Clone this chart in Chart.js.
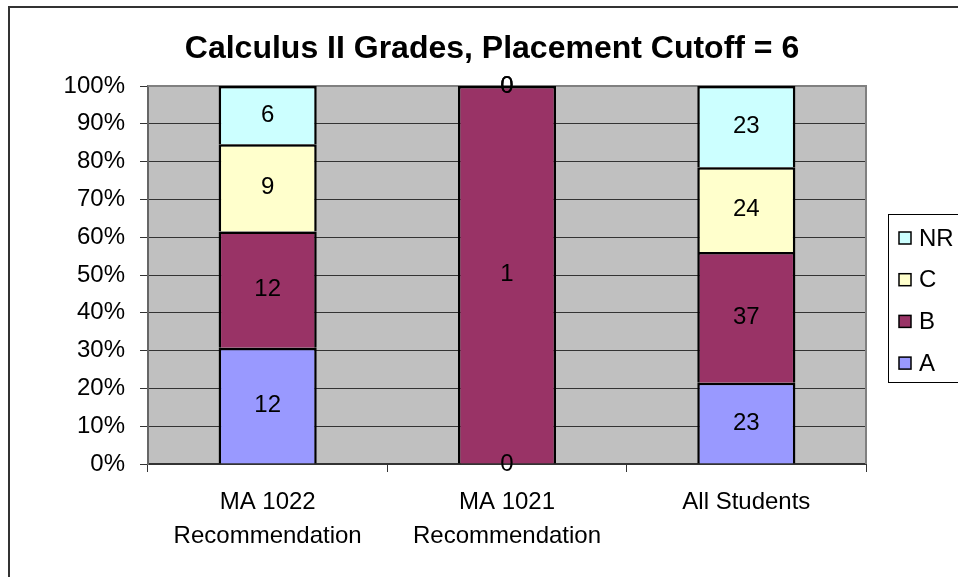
<!DOCTYPE html>
<html>
<head>
<meta charset="utf-8">
<title>Calculus II Grades</title>
<script src="https://cdn.jsdelivr.net/npm/chart.js@4"></script>
<style>
  body { margin: 0; background: #fff; }
  #wrap { width: 958px; height: 577px; position: relative; }
</style>
</head>
<body>
<div id="wrap"><canvas id="gradeChart"></canvas></div>
<script>
// course groups on the x axis
const groups = [["MA 1022", "Recommendation"], ["MA 1021", "Recommendation"], "All Students"];

// number of students per grade in each group
const gradeA = [12, 0, 23];
const gradeB = [12, 1, 37];
const gradeC = [9, 0, 24];
const gradeNR = [6, 0, 23];

const yTicks = [0, 10, 20, 30, 40, 50, 60, 70, 80, 90, 100];

const FONT = "'Liberation Sans', Arial, sans-serif";

// group totals, used to turn counts into shares of 100%
const totals = groups.map((g, i) => gradeA[i] + gradeB[i] + gradeC[i] + gradeNR[i]);
const toPct = arr => arr.map((v, i) => totals[i] ? v / totals[i] * 100 : 0);

function makeSet(label, counts, color) {
  return {
    label: label,
    data: toPct(counts),
    counts: counts,
    backgroundColor: color,
    borderColor: "#000",
    borderWidth: 2.5,
    borderSkipped: "start",
    inflateAmount: 0,
    stack: "grades"
  };
}

// gray plot background and frame
const plotFrame = {
  id: "plotFrame",
  beforeDraw(chart) {
    const ctx = chart.ctx, a = chart.chartArea;
    ctx.save();
    ctx.fillStyle = "#fff";
    ctx.fillRect(0, 0, chart.width, chart.height);
    // outer chart border
    ctx.strokeStyle = "#333";
    ctx.lineWidth = 2;
    ctx.strokeRect(9, 7, chart.width, chart.height);
    ctx.fillStyle = "#c0c0c0";
    ctx.fillRect(a.left, a.top, a.right - a.left, a.bottom - a.top);
    ctx.restore();
  },
  beforeDatasetsDraw(chart) {
    const ctx = chart.ctx, a = chart.chartArea;
    ctx.save();
    ctx.strokeStyle = "#808080";
    ctx.lineWidth = 2;
    ctx.beginPath();
    ctx.moveTo(a.left, a.top);
    ctx.lineTo(a.right, a.top);
    ctx.lineTo(a.right, a.bottom);
    ctx.stroke();
    ctx.restore();
  }
};

// counts written in the middle of each segment
const segmentLabels = {
  id: "segmentLabels",
  afterDatasetsDraw(chart) {
    const ctx = chart.ctx;
    ctx.save();
    ctx.font = "24px " + FONT;
    ctx.fillStyle = "#000";
    ctx.textAlign = "center";
    ctx.textBaseline = "middle";
    chart.data.datasets.forEach((ds, di) => {
      chart.getDatasetMeta(di).data.forEach((bar, i) => {
        ctx.fillText(String(ds.counts[i]), bar.x, (bar.y + bar.base) / 2);
      });
    });
    ctx.restore();
  }
};

// title and boxed legend
const titleAndLegend = {
  id: "titleAndLegend",
  afterDraw(chart) {
    const ctx = chart.ctx;
    ctx.save();
    ctx.fillStyle = "#000";
    ctx.font = "bold 32px " + FONT;
    ctx.textAlign = "center";
    ctx.textBaseline = "middle";
    ctx.fillText("Calculus II Grades, Placement Cutoff = 6", 492, 49);

    ctx.strokeStyle = "#000";
    ctx.lineWidth = 1;
    ctx.strokeRect(888.5, 214.5, 100, 168);
    const sets = chart.data.datasets.slice().reverse();
    ctx.font = "24px " + FONT;
    ctx.textAlign = "left";
    sets.forEach((ds, k) => {
      const y = 238 + k * 41.7;
      ctx.fillStyle = ds.backgroundColor;
      ctx.fillRect(899, y - 6, 12, 12);
      ctx.lineWidth = 1.5;
      ctx.strokeRect(899, y - 6, 12, 12);
      ctx.fillStyle = "#000";
      ctx.fillText(ds.label, 919, y + 1);
    });
    ctx.restore();
  }
};

new Chart(document.getElementById("gradeChart"), {
  type: "bar",
  data: {
    labels: groups,
    datasets: [
      makeSet("A", gradeA, "#9999ff"),
      makeSet("B", gradeB, "#993366"),
      makeSet("C", gradeC, "#ffffcc"),
      makeSet("NR", gradeNR, "#ccffff")
    ]
  },
  options: {
    responsive: true,
    maintainAspectRatio: false,
    animation: false,
    layout: { padding: { top: 86, right: 92, left: 0, bottom: 0 } },
    datasets: { bar: { categoryPercentage: 1, barPercentage: 0.41 } },
    plugins: {
      legend: { display: false },
      title: { display: false },
      tooltip: { enabled: false }
    },
    scales: {
      x: {
        stacked: true,
        afterFit(scale) { scale.height = 113; },
        grid: { drawOnChartArea: false, color: "#333", tickLength: 8, offset: true },
        border: { color: "#333", width: 2 },
        ticks: {
          color: "#000",
          font: { family: FONT, size: 24, lineHeight: 1.44 },
          padding: 13,
          maxRotation: 0
        }
      },
      y: {
        stacked: true,
        min: 0,
        max: 100,
        afterFit(scale) { scale.width = 148; },
        afterBuildTicks(scale) { scale.ticks = yTicks.map(v => ({ value: v })); },
        grid: { color: "#333", tickLength: 8 },
        border: { color: "#666", width: 2 },
        ticks: {
          color: "#000",
          font: { family: FONT, size: 24 },
          padding: 15,
          callback: v => v + "%"
        }
      }
    }
  },
  plugins: [plotFrame, segmentLabels, titleAndLegend]
});
</script>
</body>
</html>
